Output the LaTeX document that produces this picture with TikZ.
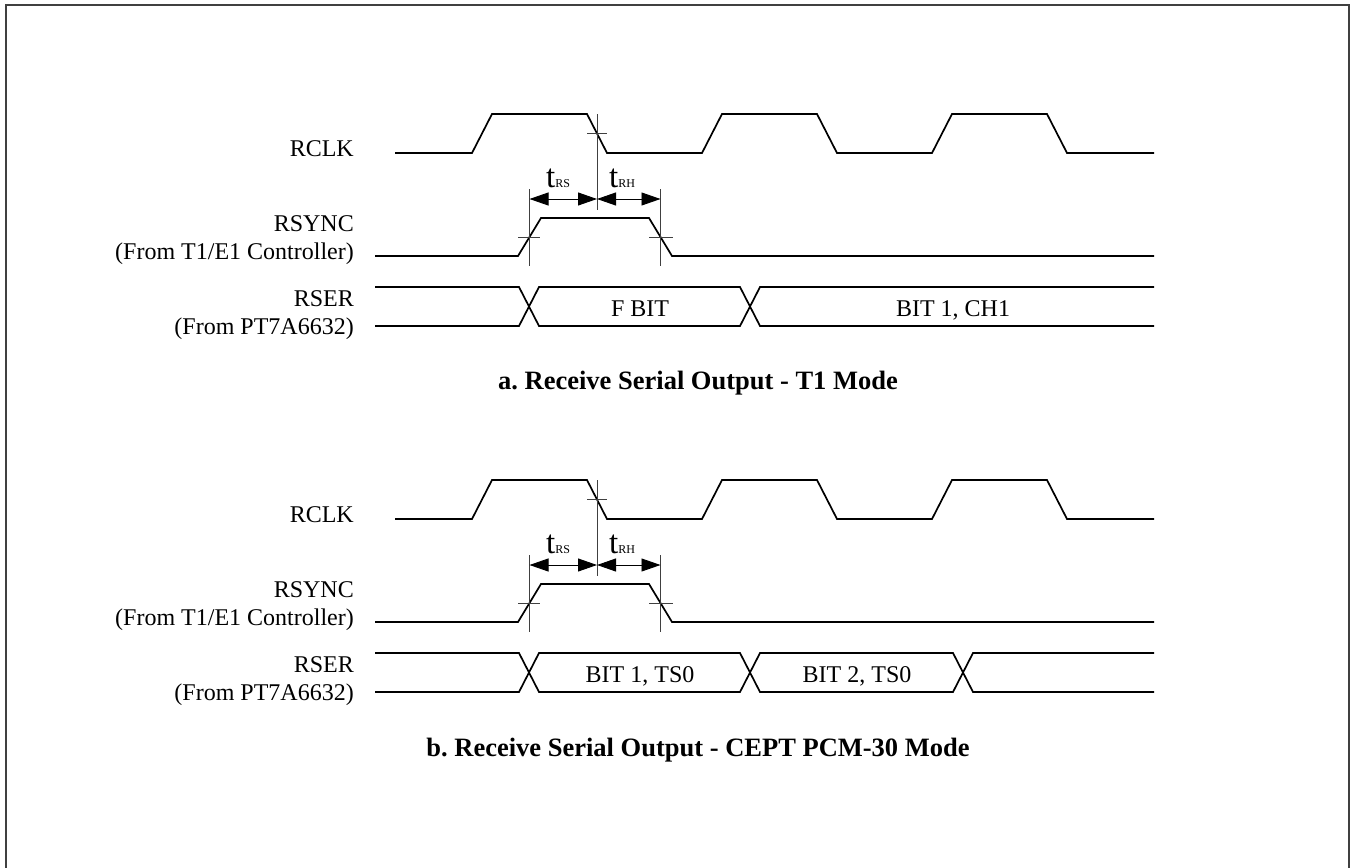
\documentclass[tikz,border=0pt]{standalone}
\usepackage{fontspec}
\setmainfont{Liberation Serif}
\usetikzlibrary{arrows.meta}
\begin{document}
\frenchspacing
\begin{tikzpicture}[x=1pt,y=-1pt,
  sig/.style={line width=1.7pt, line join=miter},
  guide/.style={line width=0.9pt, draw=black!75},
  dim/.style={line width=0.9pt, {Triangle[length=19pt,width=13pt]}-{Triangle[length=19pt,width=13pt]}},
  lbl/.style={font=\fontsize{24}{29}\selectfont, anchor=base east, inner sep=0pt},
  txt/.style={font=\fontsize{24}{29}\selectfont, anchor=base, inner sep=0pt},
  ttl/.style={font=\fontsize{26.5}{31}\selectfont\bfseries, anchor=base, inner sep=0pt},
  tsub/.style={font=\fontsize{33}{38}\selectfont, anchor=base west, inner sep=0pt}]
\useasboundingbox (0,0) rectangle (1351,867);
\clip (0,0) rectangle (1351,867);
\draw[line width=1.6pt, draw=black!75] (6,5) rectangle (1349,890);

\foreach \o/\n in {0/a,366/b}{
  % RCLK
  \draw[sig] (395,{153+\o}) -- (472,{153+\o}) -- (492,{114+\o}) -- (587,{114+\o}) -- (607,{153+\o})
    -- (702,{153+\o}) -- (722,{114+\o}) -- (817,{114+\o}) -- (837,{153+\o})
    -- (932,{153+\o}) -- (952,{114+\o}) -- (1047,{114+\o}) -- (1067,{153+\o}) -- (1154,{153+\o});
  % RSYNC
  \draw[sig] (375,{256+\o}) -- (518,{256+\o}) -- (541,{218+\o}) -- (649,{218+\o}) -- (672,{256+\o}) -- (1154,{256+\o});
  % guides
  \coordinate (ck\n) at (597,{133+\o});
  \coordinate (r1\n) at (529.5,{199+\o});
  \coordinate (r2\n) at (660.5,{199+\o});
  \coordinate (c\n) at (597,{199+\o});
  \draw[guide] (597,{114+\o}) -- (597,{210+\o});
  \draw[guide] (587,{133+\o}) -- (607,{133+\o});
  \draw[guide] (529.5,{189+\o}) -- (529.5,{266+\o});
  \draw[guide] (660.5,{189+\o}) -- (660.5,{266+\o});
  \draw[guide] (518,{237+\o}) -- (540,{237+\o});
  \draw[guide] (649,{237+\o}) -- (673,{237+\o});
  \draw[dim] (r1\n) -- (c\n);
  \draw[dim] (c\n) -- (r2\n);
  \node[tsub] (trs\n) at (546,{187+\o}) {t{\fontsize{12}{14}\selectfont RS}};
  \node[tsub] (trh\n) at (609,{187+\o}) {t{\fontsize{12}{14}\selectfont RH}};
  % labels
  \node[lbl] (lclk\n) at (354,{156+\o}) {RCLK};
  \node[lbl] (lsync\n) at (354,{231+\o}) {RSYNC};
  \node[lbl] (lsync2\n) at (354,{259+\o}) {(From T1/E1 Controller)};
  \node[lbl] (lser\n) at (354,{306+\o}) {RSER};
  \node[lbl] (lser2\n) at (354,{334+\o}) {(From PT7A6632)};
}

% RSER a
\draw[sig] (375,287) -- (519,287) -- (539,326) -- (740,326) -- (760,287) -- (1154,287);
\draw[sig] (375,326) -- (519,326) -- (539,287) -- (740,287) -- (760,326) -- (1154,326);
\node[txt] (fbit) at (640,316) {F BIT};
\node[txt] (bit1ch1) at (953,316) {BIT 1, CH1};
\node[ttl] (titlea) at (698,389) {a. Receive Serial Output - T1 Mode};

% RSER b
\draw[sig] (375,653) -- (519,653) -- (539,692) -- (740,692) -- (760,653) -- (953,653) -- (973,692) -- (1154,692);
\draw[sig] (375,692) -- (519,692) -- (539,653) -- (740,653) -- (760,692) -- (953,692) -- (973,653) -- (1154,653);
\node[txt] (bit1ts0) at (640,682) {BIT 1, TS0};
\node[txt] (bit2ts0) at (857,682) {BIT 2, TS0};
\node[ttl] (titleb) at (698,756) {b. Receive Serial Output - CEPT PCM-30 Mode};
\end{tikzpicture}
\end{document}
